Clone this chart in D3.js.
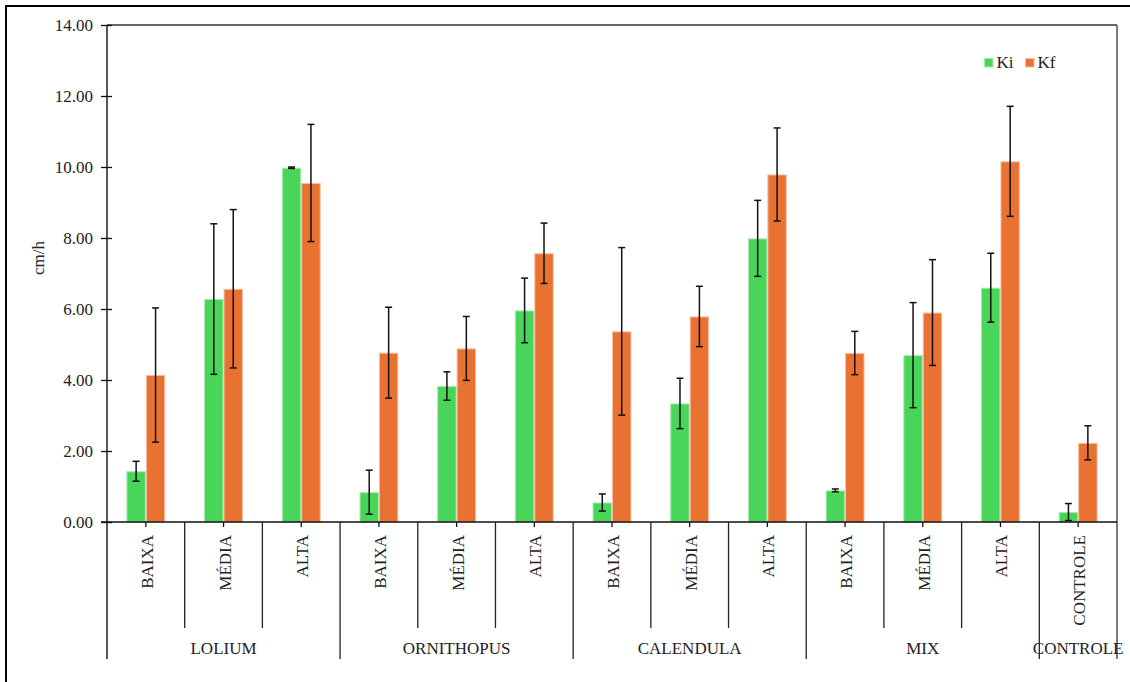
<!DOCTYPE html>
<html>
<head>
<meta charset="utf-8">
<script src="https://cdn.jsdelivr.net/npm/d3@7"></script>
</head>
<body style="margin:0;background:#fff">
<svg id="chart" width="1130" height="682" style="display:block"></svg>
<script>
// ---- data ----
const groups = ["LOLIUM", "ORNITHOPUS", "CALENDULA", "MIX", "CONTROLE"];
const groupSizes = [3, 3, 3, 3, 1];
const levels = ["BAIXA","MÉDIA","ALTA","BAIXA","MÉDIA","ALTA","BAIXA","MÉDIA","ALTA","BAIXA","MÉDIA","ALTA","CONTROLE"];
const series = ["Ki", "Kf"];
const ki    = [1.43, 6.28, 9.98, 0.84, 3.83, 5.96, 0.55, 3.34, 7.99, 0.89, 4.70, 6.60, 0.28];
const kiErr = [0.28, 2.12, 0.02, 0.62, 0.40, 0.91, 0.24, 0.71, 1.07, 0.04, 1.48, 0.97, 0.24];
const kf    = [4.14, 6.57, 9.55, 4.77, 4.89, 7.57, 5.37, 5.79, 9.79, 4.76, 5.90, 10.16, 2.23];
const kfErr = [1.89, 2.23, 1.65, 1.28, 0.90, 0.85, 2.36, 0.85, 1.31, 0.61, 1.49, 1.55, 0.48];
const yTicks = [0, 2, 4, 6, 8, 10, 12, 14];
const yLabel = "cm/h";

// ---- layout ----
const pLeft = 107, pRight = 1117, pTop = 25, pBottom = 522;
const subLineBottom = 628, groupLineBottom = 659;
const colors = {Ki: "#48d55a", Kf: "#e97132"};
const edge = {Ki: "#a6eaae", Kf: "#f6bfa3"};
const FS = 17;
const FONT = "'Liberation Serif'";
const TXT = "#222";

const svg = d3.select("#chart");

// outer frame
svg.append("rect").attr("x", 6).attr("y", 6).attr("width", 1140).attr("height", 700)
  .attr("fill", "none").attr("stroke", "#000").attr("stroke-width", 2);

const idx = d3.range(levels.length);
const x0 = d3.scaleBand().domain(idx).range([pLeft, pRight]).paddingInner(0).paddingOuter(0);
const bw = x0.bandwidth();
const x1 = d3.scaleBand().domain(series).range([bw * 0.25, bw * 0.75]).padding(0);
const y = d3.scaleLinear().domain([0, 14]).range([pBottom, pTop]);

// plot border (top + right)
svg.append("line").attr("x1", pLeft).attr("x2", pRight).attr("y1", pTop).attr("y2", pTop)
  .attr("stroke", "#333").attr("stroke-width", 1.4);
svg.append("line").attr("x1", pRight).attr("x2", pRight).attr("y1", pTop).attr("y2", groupLineBottom)
  .attr("stroke", "#444").attr("stroke-width", 1.4);

// bars
const data = idx.map(i => ({i, vals: [
  {s: "Ki", v: ki[i], e: kiErr[i]},
  {s: "Kf", v: kf[i], e: kfErr[i]}
]}));

const g = svg.append("g");
const cat = g.selectAll("g.cat").data(data).join("g")
  .attr("transform", d => `translate(${x0(d.i)},0)`);
cat.selectAll("rect").data(d => d.vals).join("rect")
  .attr("x", d => x1(d.s) + 0.5)
  .attr("width", x1.bandwidth() - 1)
  .attr("y", d => y(d.v) + 0.5)
  .attr("height", d => Math.max(0, y(0) - y(d.v) - 0.5))
  .attr("fill", d => colors[d.s])
  .attr("stroke", d => edge[d.s])
  .attr("stroke-width", 1);

// error bars
const capW = 3.5;
const eb = cat.selectAll("g.err").data(d => d.vals).join("g")
  .attr("transform", d => `translate(${x1(d.s) + x1.bandwidth() / 2},0)`);
eb.append("line").attr("x1", 0).attr("x2", 0)
  .attr("y1", d => y(d.v + d.e)).attr("y2", d => y(d.v - d.e))
  .attr("stroke", "#111").attr("stroke-width", 1.5);
eb.append("line").attr("x1", -capW).attr("x2", capW)
  .attr("y1", d => y(d.v + d.e)).attr("y2", d => y(d.v + d.e))
  .attr("stroke", "#111").attr("stroke-width", 1.5);
eb.append("line").attr("x1", -capW).attr("x2", capW)
  .attr("y1", d => y(d.v - d.e)).attr("y2", d => y(d.v - d.e))
  .attr("stroke", "#111").attr("stroke-width", 1.5);

// y axis
const yAxis = d3.axisLeft(y).tickValues(yTicks).tickFormat(d3.format(".2f")).tickSize(6).tickPadding(8);
const ya = svg.append("g").attr("transform", `translate(${pLeft},0)`).call(yAxis);
ya.attr("font-family", null).attr("font-size", null);
ya.select(".domain").remove();
ya.selectAll(".tick line").attr("x1", -6).attr("x2", 5).attr("stroke", "#111").attr("stroke-width", 1.3);
ya.selectAll(".tick text").style("font-family", FONT).style("font-size", FS + "px").attr("fill", TXT);
svg.append("line").attr("x1", pLeft).attr("x2", pLeft).attr("y1", pTop).attr("y2", groupLineBottom)
  .attr("stroke", "#111").attr("stroke-width", 1.4);

// y label
svg.append("text").attr("transform", `translate(44,258) rotate(-90)`)
  .attr("text-anchor", "middle").style("font-size", FS + "px").style("font-family", FONT)
  .attr("fill", TXT).text(yLabel);

// x axis line
svg.append("line").attr("x1", pLeft - 6).attr("x2", pRight).attr("y1", pBottom).attr("y2", pBottom)
  .attr("stroke", "#111").attr("stroke-width", 1.5);

// x axis center ticks + labels via d3 axis
const xAxis = d3.axisBottom(x0).tickSize(5).tickFormat(i => levels[i]);
const xa = svg.append("g").attr("transform", `translate(0,${pBottom})`).call(xAxis);
xa.attr("font-family", null).attr("font-size", null);
xa.select(".domain").remove();
xa.selectAll(".tick line").attr("stroke", "#111").attr("stroke-width", 1.3);
xa.selectAll(".tick text")
  .style("font-size", FS + "px").style("font-family", FONT).attr("fill", TXT)
  .attr("text-anchor", "end")
  .attr("transform", "translate(7,13) rotate(-90)")
  .attr("x", 0).attr("y", 0).attr("dy", 0);

// separators
let start = 0;
const groupBounds = [];
groupSizes.forEach((n, gi) => {
  groupBounds.push([start, start + n]);
  start += n;
});
idx.forEach(i => {
  if (i === 0) return;
  const isGroup = groupBounds.some(b => b[0] === i);
  svg.append("line").attr("x1", x0(i)).attr("x2", x0(i)).attr("y1", pBottom)
    .attr("y2", isGroup ? groupLineBottom : subLineBottom)
    .attr("stroke", "#222").attr("stroke-width", 1.3);
});

// group labels
groupBounds.forEach((b, gi) => {
  const cx = (x0(b[0]) + x0(b[1] - 1) + bw) / 2;
  svg.append("text").attr("x", cx).attr("y", 654).attr("text-anchor", "middle")
    .style("font-size", FS + "px").style("font-family", FONT).attr("fill", TXT).text(groups[gi]);
});

// legend
const lg = svg.append("g");
const legendPos = [984, 1025];
series.forEach((s, k) => {
  lg.append("rect").attr("x", legendPos[k] + 0.5).attr("y", 58.5).attr("width", 8.5).attr("height", 8.5)
    .attr("fill", colors[s]).attr("stroke", edge[s]).attr("stroke-width", 1);
  lg.append("text").attr("x", legendPos[k] + 12.5).attr("y", 67.5).style("font-size", FS + "px")
    .style("font-family", FONT).attr("fill", TXT).text(s);
});
</script>
</body>
</html>
